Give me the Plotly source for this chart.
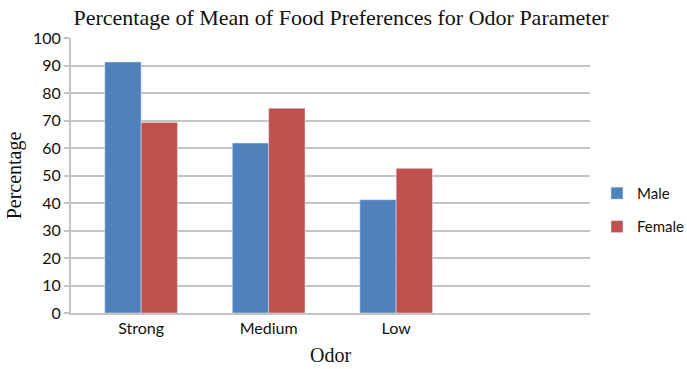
import plotly.graph_objects as go

# Odor preference means (%) by gender
categories = ["Strong", "Medium", "Low"]
male = [91.3, 61.8, 41.2]
female = [69.3, 74.5, 52.6]
y_ticks = list(range(0, 101, 10))

BLUE = "#4F81BD"
RED = "#C0504D"
GRID = "#c4c4c4"
SANS = "Lato, 'Open Sans', sans-serif"
SERIF = "'Liberation Serif', 'Times New Roman', serif"

W, H = 687, 369
ML, MT, MB = 71, 38, 56
PLOT_RIGHT = 590  # right end of the gridlines, px

fig = go.Figure()
fig.add_trace(go.Bar(name="Male", x=categories, y=male, marker_color=BLUE, legendgroup="m"))
fig.add_trace(go.Bar(name="Female", x=categories, y=female, marker_color=RED, legendgroup="f"))

fig.update_layout(
    width=W,
    height=H,
    margin=dict(l=ML, r=0, t=MT, b=MB, autoexpand=False),
    paper_bgcolor="white",
    plot_bgcolor="white",
    barmode="group",
    bargap=0.43,
    bargroupgap=0,
    title=dict(
        text="Percentage of Mean of Food Preferences for Odor Parameter",
        font=dict(family=SERIF, size=22, color="#111111"),
        x=(341 - ML) / (W - ML), xanchor="center", xref="paper",
        y=0.953, yanchor="middle",
    ),
    legend=dict(
        x=(597 - ML) / (W - ML), xanchor="left", y=0.375, yanchor="middle",
        font=dict(family=SANS, size=15, color="#111111"),
        itemwidth=30, tracegroupgap=11,
        bgcolor="rgba(0,0,0,0)",
    ),
    xaxis=dict(
        domain=[0, (PLOT_RIGHT - ML) / (W - ML)],
        type="category",
        range=[-0.55, 3.52],
        showgrid=False,
        showline=True, linecolor=GRID, linewidth=2,
        ticks="", tickfont=dict(family=SANS, size=16, color="#111111"),
        title=dict(text="Odor", font=dict(family=SERIF, size=20, color="#111111"), standoff=12),
        automargin=False,
    ),
    yaxis=dict(
        range=[0, 100],
        tickvals=y_ticks,
        showgrid=True, gridcolor=GRID, gridwidth=2,
        showline=True, linecolor=GRID, linewidth=2,
        ticks="outside", ticklen=5, tickcolor=GRID, tickwidth=2,
        tickfont=dict(family=SANS, size=16, color="#111111"),
        title=dict(text="Percentage", font=dict(family=SERIF, size=20, color="#111111"), standoff=6),
        zeroline=False,
        automargin=False,
    ),
)

fig.write_html("out.html")
